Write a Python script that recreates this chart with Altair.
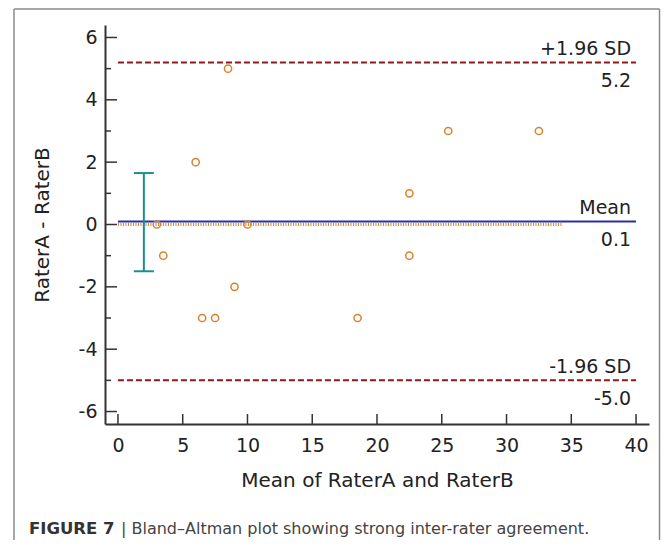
import altair as alt
import pandas as pd

# ---- data ----
mean_x = [3, 3.5, 6, 6.5, 7.5, 8.5, 9, 10, 18.5, 22.5, 22.5, 25.5, 32.5]
diff_y = [0, -1, 2, -3, -3, 5, -2, 0, -3, 1, -1, 3, 3]

line_names = ["+1.96 SD", "Mean", "-1.96 SD"]
line_values = [5.2, 0.1, -5.0]
line_labels = ["5.2", "0.1", "-5.0"]
line_kind = ["sd", "mean", "sd"]
line_start = [0, 0, 0]
line_end = [40, 40, 40]

zero_start = [0]
zero_end = [34.3]
zero_value = [0]

ci_x = [2]
ci_low = [-1.5]
ci_high = [1.65]

x_ticks = [0, 5, 10, 15, 20, 25, 30, 35, 40]
y_major = [-6, -4, -2, 0, 2, 4, 6]
y_minor = [-5, -3, -1, 1, 3, 5]

x_title = "Mean of RaterA and RaterB"
y_title = "RaterA - RaterB"
caption_bold = ["FIGURE 7"]
caption_rest = ["| Bland\u2013Altman plot showing strong inter-rater agreement."]

# ---- build tables ----
pts = pd.DataFrame({"x": mean_x, "y": diff_y})
lines = pd.DataFrame({"name": line_names, "v": line_values, "lab": line_labels,
                      "kind": line_kind, "x0": line_start, "x1": line_end})
zero = pd.DataFrame({"x0": zero_start, "x1": zero_end, "v": zero_value})
ci = pd.DataFrame({"x": ci_x, "lo": ci_low, "hi": ci_high})
caps = pd.DataFrame({"x": ci_x * 2, "y": ci_low + ci_high})
xt = pd.DataFrame({"v": x_ticks})
ymaj = pd.DataFrame({"v": y_major})
ymin = pd.DataFrame({"v": y_minor})

W, H = 544, 399
FONT = "DejaVu Sans"
xs = alt.Scale(domain=[-1, 41], nice=False, zero=False)
ys = alt.Scale(domain=[-6.4, 6.4], nice=False, zero=False)

XA = alt.Axis(
    values=x_ticks, ticks=False, tickSize=0, grid=False, domainColor="#333333",
    domainWidth=2, labelFont=FONT, labelFontSize=19, labelColor="#222222",
    labelPadding=27, labelBaseline="alphabetic", labelFlush=False,
    labelExpr="'' + datum.value",
    title=x_title, titleFont=FONT, titleFontSize=20, titleFontWeight="normal",
    titleColor="#222222", titleX=W / 2, titleY=62, titleBaseline="alphabetic",
    titleAlign="center")
YA = alt.Axis(
    values=y_major, ticks=False, tickSize=0, grid=False, domainColor="#333333",
    domainWidth=2, labelFont=FONT, labelFontSize=19, labelColor="#222222",
    labelPadding=8, labelBaseline="middle", labelExpr="'' + datum.value",
    title=y_title, titleFont=FONT, titleFontSize=20, titleFontWeight="normal",
    titleColor="#222222", titleX=-57, titleY=H / 2, titleAngle=-90,
    titleBaseline="alphabetic", titleAlign="center")


def X(f):
    return alt.X(f, scale=xs, axis=XA, title=x_title)


def Y(f):
    return alt.Y(f, scale=ys, axis=YA, title=y_title)


points = alt.Chart(pts).mark_point(
    shape="circle", filled=False, size=52, strokeWidth=1.5, color="#d9822b", opacity=1
).encode(x=X("x:Q"), y=Y("y:Q"))

ymaj_t = alt.Chart(ymaj).mark_rule(color="#333333", strokeWidth=1.5).encode(
    y=Y("v:Q"), x=alt.value(0), x2=alt.value(12))
ymin_t = alt.Chart(ymin).mark_rule(color="#333333", strokeWidth=1.5).encode(
    y=Y("v:Q"), x=alt.value(0), x2=alt.value(6))
x_t = alt.Chart(xt).mark_rule(color="#333333", strokeWidth=1.5).encode(
    x=X("v:Q"), y=alt.value(H), y2=alt.value(H - 10))

sd_lines = alt.Chart(lines).transform_filter(alt.datum.kind == "sd").mark_rule(
    color="#8b1a1a", strokeWidth=2, strokeDash=[6, 3]).encode(
    x=X("x0:Q"), x2="x1:Q", y=Y("v:Q"))
mean_line = alt.Chart(lines).transform_filter(alt.datum.kind == "mean").mark_rule(
    color="#2b2f9e", strokeWidth=2).encode(
    x=X("x0:Q"), x2="x1:Q", y=Y("v:Q"))
zero_line = alt.Chart(zero).mark_rule(
    color="#d9822b", strokeWidth=3, strokeDash=[1, 1.5]).encode(
    x=X("x0:Q"), x2="x1:Q", y=Y("v:Q"))

name_txt = alt.Chart(lines).mark_text(
    align="right", baseline="alphabetic", dx=-5, dy=-7, font=FONT, fontSize=19,
    color="#222222").encode(x=X("x1:Q"), y=Y("v:Q"), text="name:N")
val_txt = alt.Chart(lines).mark_text(
    align="right", baseline="alphabetic", dx=-5, dy=25, font=FONT, fontSize=19,
    color="#222222").encode(x=X("x1:Q"), y=Y("v:Q"), text="lab:N")

ci_bar = alt.Chart(ci).mark_rule(color="#1a8f8f", strokeWidth=2).encode(
    x=X("x:Q"), y=Y("lo:Q"), y2="hi:Q")
ci_caps = alt.Chart(caps).mark_tick(
    orient="horizontal", size=20, thickness=2, color="#1a8f8f", opacity=1).encode(
    x=X("x:Q"), y=Y("y:Q"))

frame_col = "#8a8a8a"
one = pd.DataFrame({"a": [0]})
frame_left = alt.Chart(one).mark_rule(color=frame_col, strokeWidth=1.5).encode(
    x=alt.value(-91), y=alt.value(-16), y2=alt.value(515))
frame_right = alt.Chart(one).mark_rule(color=frame_col, strokeWidth=1.5).encode(
    x=alt.value(554.5), y=alt.value(-16), y2=alt.value(515))
frame_top = alt.Chart(one).mark_rule(color=frame_col, strokeWidth=1.5).encode(
    y=alt.value(-16), x=alt.value(-91), x2=alt.value(554.5))

cap_b = alt.Chart(pd.DataFrame({"t": caption_bold})).mark_text(
    align="left", baseline="alphabetic", font=FONT, fontSize=16.5, fontWeight="bold",
    color="#333333").encode(x=alt.value(-76), y=alt.value(509), text="t:N")
cap_r = alt.Chart(pd.DataFrame({"t": caption_rest})).mark_text(
    align="left", baseline="alphabetic", font=FONT, fontSize=16, fontWeight="normal",
    color="#444444").encode(x=alt.value(16), y=alt.value(509), text="t:N")

chart = alt.layer(
    frame_left, frame_right, frame_top,
    zero_line, mean_line, sd_lines, ymaj_t, ymin_t, x_t,
    ci_bar, ci_caps, points, name_txt, val_txt, cap_b, cap_r,
).properties(
    width=W, height=H,
    padding={"left": 97, "top": 17, "right": 12, "bottom": 116},
    autosize=alt.AutoSizeParams(type="none"),
    background="white",
).configure_view(stroke=None)

chart.save("out.html", embed_options={"renderer": "svg", "actions": False})
